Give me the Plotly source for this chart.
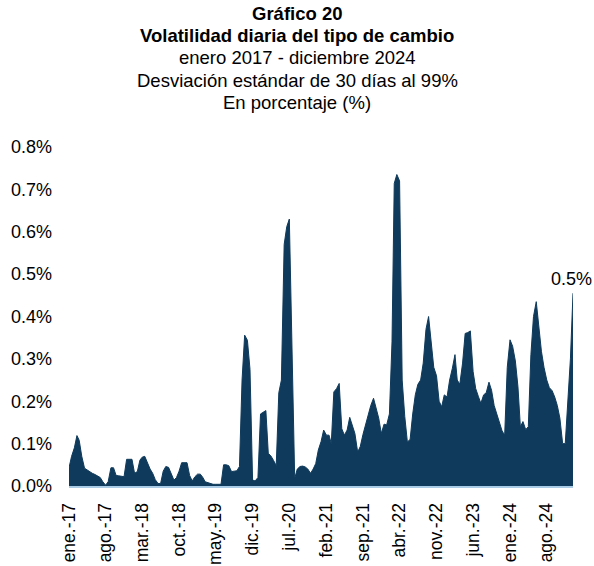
import plotly.graph_objects as go
import pandas as pd

# Semi-monthly readings (1st and 16th of each month), % daily volatility
v2017 = [0.043, 0.070, 0.090, 0.119, 0.108, 0.070, 0.042, 0.038, 0.033, 0.030, 0.027, 0.024,
         0.020, 0.010, 0.002, 0.010, 0.043, 0.043, 0.025, 0.024, 0.023, 0.022, 0.063, 0.063]
v2018 = [0.063, 0.030, 0.034, 0.061, 0.068, 0.070, 0.053, 0.040, 0.030, 0.015, 0.006, 0.006,
         0.035, 0.046, 0.044, 0.030, 0.014, 0.020, 0.035, 0.055, 0.055, 0.055, 0.025, 0.012]
v2019 = [0.022, 0.028, 0.028, 0.020, 0.010, 0.008, 0.005, 0.004, 0.004, 0.004, 0.004, 0.050,
         0.050, 0.048, 0.034, 0.035, 0.036, 0.046, 0.250, 0.356, 0.344, 0.275, 0.014, 0.012]
v2020 = [0.020, 0.170, 0.175, 0.178, 0.077, 0.071, 0.060, 0.048, 0.220, 0.250, 0.570, 0.612,
         0.630, 0.350, 0.018, 0.040, 0.046, 0.047, 0.045, 0.040, 0.030, 0.040, 0.053, 0.085]
v2021 = [0.105, 0.132, 0.120, 0.120, 0.100, 0.222, 0.230, 0.242, 0.135, 0.120, 0.132, 0.162,
         0.145, 0.124, 0.080, 0.093, 0.122, 0.145, 0.166, 0.190, 0.207, 0.183, 0.160, 0.124]
v2022 = [0.146, 0.144, 0.170, 0.340, 0.714, 0.735, 0.720, 0.250, 0.164, 0.104, 0.110, 0.170,
         0.215, 0.240, 0.250, 0.290, 0.370, 0.400, 0.340, 0.280, 0.260, 0.200, 0.187, 0.215]
v2023 = [0.210, 0.250, 0.278, 0.310, 0.250, 0.240, 0.290, 0.360, 0.362, 0.366, 0.270, 0.230,
         0.212, 0.195, 0.215, 0.220, 0.245, 0.226, 0.190, 0.170, 0.150, 0.130, 0.120, 0.280]
v2024 = [0.345, 0.330, 0.295, 0.234, 0.140, 0.152, 0.133, 0.140, 0.310, 0.400, 0.435, 0.370,
         0.318, 0.280, 0.250, 0.232, 0.225, 0.210, 0.190, 0.160, 0.100, 0.100, 0.190, 0.300]
last_date = "2024-12-31"
last_value = 0.455

years = [2017, 2018, 2019, 2020, 2021, 2022, 2023, 2024]
series = [v2017, v2018, v2019, v2020, v2021, v2022, v2023, v2024]

tick_labels = ["ene.-17", "ago.-17", "mar.-18", "oct.-18", "may.-19", "dic.-19", "jul.-20",
               "feb.-21", "sep.-21", "abr.-22", "nov.-22", "jun.-23", "ene.-24", "ago.-24"]
tick_dates = ["2017-01-01", "2017-08-01", "2018-03-01", "2018-10-01", "2019-05-01", "2019-12-01",
              "2020-07-01", "2021-02-01", "2021-09-01", "2022-04-01", "2022-11-01", "2023-06-01",
              "2024-01-01", "2024-08-01"]

y_ticks = [0, 0.1, 0.2, 0.3, 0.4, 0.5, 0.6, 0.7, 0.8]

title_lines = ["<b>Gráfico 20</b>", "<b>Volatilidad diaria del tipo de cambio</b>",
               "enero 2017 - diciembre 2024", "Desviación estándar de 30 días al 99%",
               "En porcentaje (%)"]

dates = []
values = []
for yr, vals in zip(years, series):
    for i, v in enumerate(vals):
        month = i // 2 + 1
        day = 1 if i % 2 == 0 else 16
        dates.append(pd.Timestamp(year=yr, month=month, day=day))
        values.append(v)
dates.append(pd.Timestamp(last_date))
values.append(last_value)

FONT = "Liberation Sans, Arial, sans-serif"
NAVY = "#0f3a5b"

fig = go.Figure()
fig.add_trace(go.Scatter(
    x=dates, y=values, mode="lines", fill="tozeroy",
    line=dict(color=NAVY, width=1), fillcolor=NAVY, hoverinfo="skip", showlegend=False,
))

W, H = 594, 566
mt, mb, ml, mr = 147, 80, 69, 21
ph = H - mt - mb
pw = W - ml - mr

# title lines as annotations at pixel-based vertical positions
title_y_px = [14, 36, 58, 80, 102]
for txt, py in zip(title_lines, title_y_px):
    fig.add_annotation(
        text=txt, xref="paper", yref="paper", x=(297 - ml) / pw,
        y=(H - mb - py) / ph, xanchor="center", yanchor="middle", showarrow=False,
        font=dict(family=FONT, size=18.5, color="#000000"),
    )

fig.add_annotation(
    x=pd.Timestamp(last_date), y=last_value, text="0.5%", showarrow=False,
    xanchor="center", yanchor="bottom", yshift=2, xshift=-2,
    font=dict(family=FONT, size=18, color="#000000"),
)

fig.update_layout(
    width=W, height=H,
    margin=dict(l=ml, r=mr, t=mt, b=mb, pad=0, autoexpand=False),
    paper_bgcolor="white", plot_bgcolor="white",
    font=dict(family=FONT, size=18, color="#000000"),
    xaxis=dict(
        type="date", range=[pd.Timestamp("2017-01-01"), pd.Timestamp("2024-12-31")],
        tickmode="array", tickvals=tick_dates, ticktext=tick_labels, tickangle=-90,
        showgrid=False, zeroline=False, showline=True, linecolor="#a9cbe6", linewidth=2,
        ticks="", ticklabelstandoff=8, tickfont=dict(family=FONT, size=17.5),
        automargin=False,
    ),
    yaxis=dict(
        range=[0, 0.8], tickmode="array", tickvals=y_ticks,
        ticktext=[f"{t:.1f}%" for t in y_ticks],
        showgrid=False, zeroline=False, showline=False, ticks="",
        ticklabelstandoff=16, tickfont=dict(family=FONT, size=18),
        automargin=False,
    ),
)

fig.write_html(
    "out.html",
    config={"displayModeBar": False},
    post_script="document.body.style.margin='0px';document.body.style.overflow='hidden';",
)
